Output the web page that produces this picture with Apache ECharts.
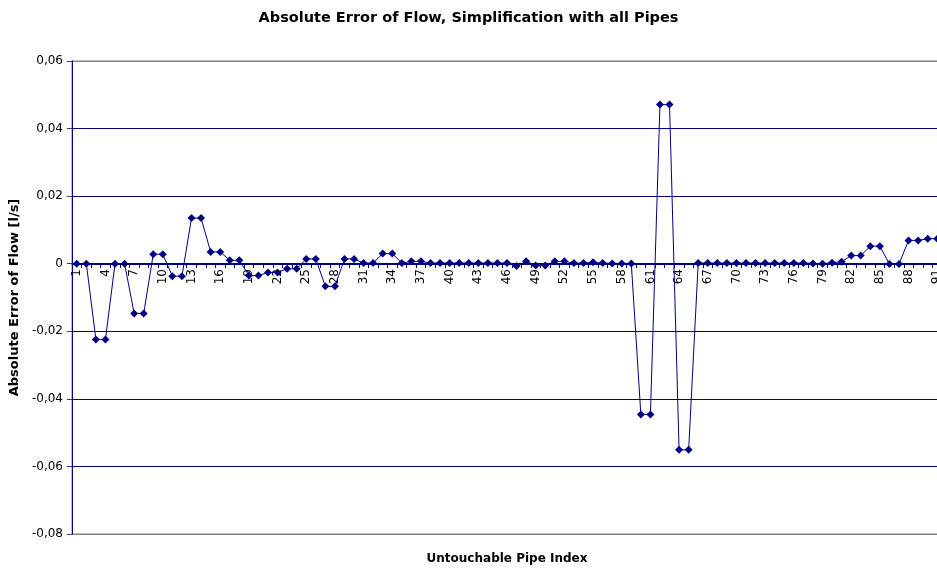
<!DOCTYPE html>
<html>
	<head>
		<meta charset="utf-8">
		<title>Absolute Error of Flow</title>
	</head>
	<body style="margin:0;">
		<div id="container" style="width: 937px;height:569px;"></div>
	</body>
	<script src="https://cdn.jsdelivr.net/npm/echarts@6/dist/echarts.min.js"></script>
	<script type="text/javascript">
		'use strict'
		// pipe index 1..91
		var pipeIndex = [];
		for (var i = 1; i <= 91; i++) {
			pipeIndex.push(String(i));
		}
		// absolute error of flow [l/s]
		var flowError = [
			0, 0, -0.0224, -0.0224, 0, 0, -0.0147, -0.0147, 0.0028, 0.0028,
			-0.0037, -0.0037, 0.0135, 0.0135, 0.0035, 0.0035, 0.001, 0.001, -0.0035, -0.0035,
			-0.0026, -0.0026, -0.0015, -0.0015, 0.0014, 0.0014, -0.0067, -0.0067, 0.0014, 0.0014,
			0.0002, 0.0002, 0.003, 0.003, 0.0002, 0.0007, 0.0007, 0.0002, 0.0002, 0.0002,
			0.0002, 0.0002, 0.0002, 0.0002, 0.0002, 0.0002, -0.0007, 0.0007, -0.0005, -0.0005,
			0.0007, 0.0007, 0.0002, 0.0002, 0.0004, 0.0002, 0.0001, 0.0001, 0.0001, -0.0446,
			-0.0446, 0.0471, 0.0471, -0.0551, -0.0551, 0.0002, 0.0002, 0.0002, 0.0002, 0.0002,
			0.0002, 0.0002, 0.0002, 0.0002, 0.0002, 0.0002, 0.0002, 0.0001, 0, 0.0003,
			0.0006, 0.0024, 0.0024, 0.0052, 0.0052, -0.0001, -0.0001, 0.0069, 0.0069, 0.0074,
			0.0074
		];
		var navy = '#000080';
		var font = 'Tahoma, "DejaVu Sans", sans-serif';

		var myCharts = echarts.init(document.getElementById('container'));
		var option = {
			animation: false,
			backgroundColor: '#ffffff',
			title: {
				text: 'Absolute Error of Flow, Simplification with all Pipes',
				left: 'center',
				top: 6,
				textStyle: {
					fontFamily: font,
					fontSize: 14.5,
					fontWeight: 'bold',
					color: '#000'
				}
			},
			grid: {
				left: 72,
				right: -5,
				top: 61,
				bottom: 35,
				outerBoundsMode: 'none',
				containLabel: false,
				show: true,
				borderColor: '#808080',
				borderWidth: 1
			},
			xAxis: {
				type: 'category',
				data: pipeIndex,
				// moved up onto the zero line
				offset: -270,
				name: 'Untouchable Pipe Index',
				nameLocation: 'middle',
				nameGap: 289,
				nameTextStyle: {
					fontFamily: font,
					fontSize: 12,
					fontWeight: 'bold',
					color: '#000'
				},
				axisLine: {
					onZero: false,
					lineStyle: { color: navy, width: 1 }
				},
				axisTick: {
					show: true,
					interval: 0,
					length: 4,
					lineStyle: { color: navy }
				},
				axisLabel: {
					interval: 2,
					rotate: 90,
					margin: 5,
					fontFamily: font,
					fontSize: 12,
					color: '#000'
				},
				splitLine: { show: false }
			},
			yAxis: {
				type: 'value',
				min: -0.08,
				max: 0.06,
				interval: 0.02,
				name: 'Absolute Error of Flow [l/s]',
				nameLocation: 'middle',
				nameGap: 49,
				nameRotate: 90,
				nameTextStyle: {
					fontFamily: font,
					fontSize: 13,
					fontWeight: 'bold',
					color: '#000'
				},
				axisLine: {
					show: true,
					onZero: false,
					lineStyle: { color: navy, width: 1 }
				},
				axisTick: {
					show: true,
					length: 5,
					lineStyle: { color: '#404060' }
				},
				axisLabel: {
					margin: 9,
					fontFamily: font,
					fontSize: 12,
					color: '#000',
					formatter: function(v) {
						var s = v.toFixed(2);
						if (Math.abs(v) < 1e-9) return '0';
						return s.replace('.', ',');
					}
				},
				splitLine: {
					show: true,
					lineStyle: {
						color: ['#808080', navy, navy, navy, navy, navy, navy, '#808080'],
						width: 1
					}
				}
			},
			series: [
				{
					name: 'Absolute Error',
					type: 'line',
					data: flowError,
					symbol: 'diamond',
					symbolSize: 8,
					showAllSymbol: true,
					itemStyle: { color: navy },
					lineStyle: { color: navy, width: 1 }
				}
			]
		};
		myCharts.setOption(option);
	</script>
</html>
